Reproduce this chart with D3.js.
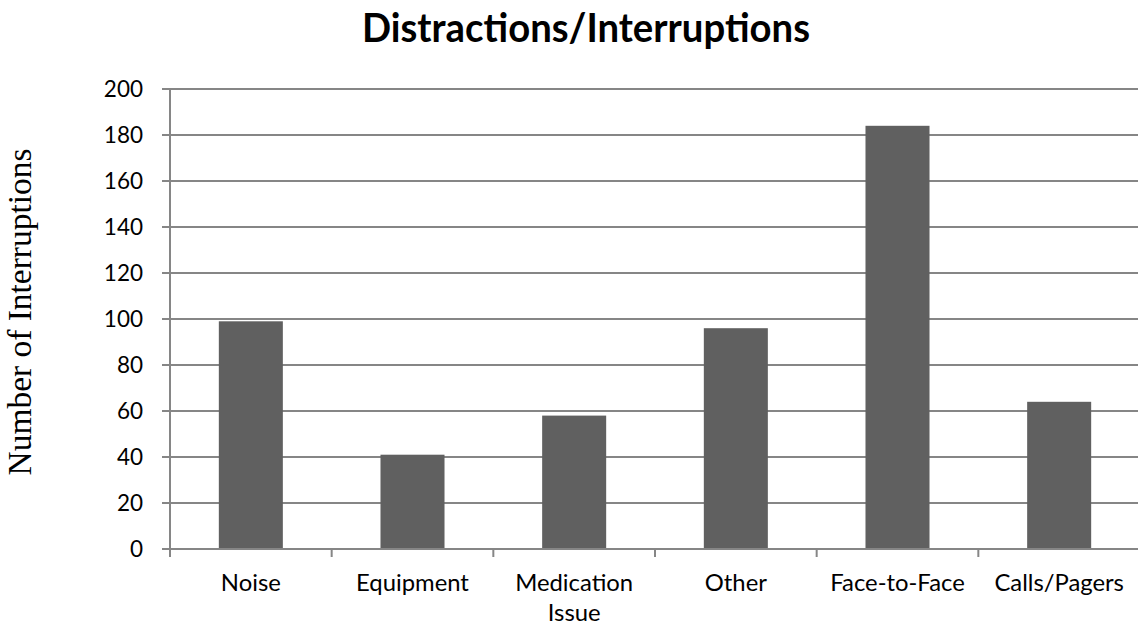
<!DOCTYPE html>
<html><head><meta charset="utf-8">
<script src="https://cdn.jsdelivr.net/npm/d3@7"></script>
<style>body{margin:0;background:#fff}svg{display:block}</style>
</head><body>
<script>
const categories = ["Noise", "Equipment", "Medication Issue", "Other", "Face-to-Face", "Calls/Pagers"];
const values = [99, 41, 58, 96, 184, 64];
const yTicks = [0, 20, 40, 60, 80, 100, 120, 140, 160, 180, 200];
const title = "Distractions/Interruptions";
const yTitle = "Number of Interruptions";

(function () {
const W = 1138, H = 629;
const svg = d3.select("body").append("svg").attr("width", W).attr("height", H);
const pLeft = 170, pRight = 1140, pTop = 89, pBottom = 549;
const x = d3.scaleBand().domain(categories).range([pLeft, pRight]).paddingInner(0).paddingOuter(0);
const y = d3.scaleLinear().domain([0, 200]).range([pBottom, pTop]);
const grid = "#868686";
const font = "Lato, 'Open Sans', sans-serif";

// gridlines
svg.append("g").selectAll("line").data(yTicks.filter(d => d > 0)).join("line")
  .attr("x1", pLeft - 8).attr("x2", W).attr("y1", d => y(d)).attr("y2", d => y(d))
  .attr("stroke", grid).attr("stroke-width", 2);

// bars
const bw = x.bandwidth() * 0.396;
svg.append("g").selectAll("rect").data(categories).join("rect")
  .attr("x", (d) => x(d) + (x.bandwidth() - bw) / 2)
  .attr("width", bw)
  .attr("y", (d, i) => y(values[i]))
  .attr("height", (d, i) => y(0) - y(values[i]))
  .attr("fill", "#606060");

// y axis line
svg.append("line").attr("x1", pLeft).attr("x2", pLeft).attr("y1", pTop).attr("y2", pBottom + 8)
  .attr("stroke", grid).attr("stroke-width", 2);
// x axis line
svg.append("line").attr("x1", pLeft - 8).attr("x2", W).attr("y1", pBottom).attr("y2", pBottom)
  .attr("stroke", grid).attr("stroke-width", 2);
// x ticks at band boundaries
const bounds = categories.map(c => x(c)).concat([pRight]);
svg.append("g").selectAll("line").data(bounds.filter(b => b < W)).join("line")
  .attr("x1", d => d).attr("x2", d => d).attr("y1", pBottom).attr("y2", pBottom + 8)
  .attr("stroke", grid).attr("stroke-width", 2);

// y tick labels
svg.append("g").selectAll("text").data(yTicks).join("text")
  .attr("x", 143).attr("y", d => y(d)).attr("dy", "0.36em")
  .attr("text-anchor", "end").attr("font-family", font).attr("font-size", 22.5)
  .attr("fill", "#000").text(d => d);

// x labels
const xl = svg.append("g").selectAll("text").data(categories).join("text")
  .attr("x", d => x(d) + x.bandwidth() / 2).attr("y", 591)
  .attr("text-anchor", "middle").attr("font-family", font).attr("font-size", 22).attr("fill", "#000");
xl.each(function(d) {
  const t = d3.select(this);
  if (d === "Medication Issue") {
    const parts = d.split(" ");
    parts.forEach((p, i) => t.append("tspan").attr("x", x(d) + x.bandwidth() / 2).attr("dy", i ? 30 : 0).text(p));
  } else t.text(d);
});
// fit size so "Noise" is ~60px wide like the reference
const nw = xl.filter(d => d === "Noise").node().getComputedTextLength();
xl.attr("font-size", 22 * 60 / nw);

// title
svg.append("text").attr("x", 586).attr("y", 42).attr("text-anchor", "middle")
  .attr("font-family", font).attr("font-weight", "bold").attr("font-size", 40.5)
  .attr("textLength", 448).attr("lengthAdjust", "spacingAndGlyphs")
  .attr("fill", "#000").text(title);

// y title
const yt = svg.append("text").attr("transform", "translate(31,312) rotate(-90)")
  .attr("text-anchor", "middle").attr("font-family", "'Liberation Serif', 'Times New Roman', serif")
  .attr("font-size", 22).attr("fill", "#000").text(yTitle);
const yw = yt.node().getComputedTextLength();
yt.attr("font-size", 22 * 327 / yw);
})();
</script>
</body></html>
